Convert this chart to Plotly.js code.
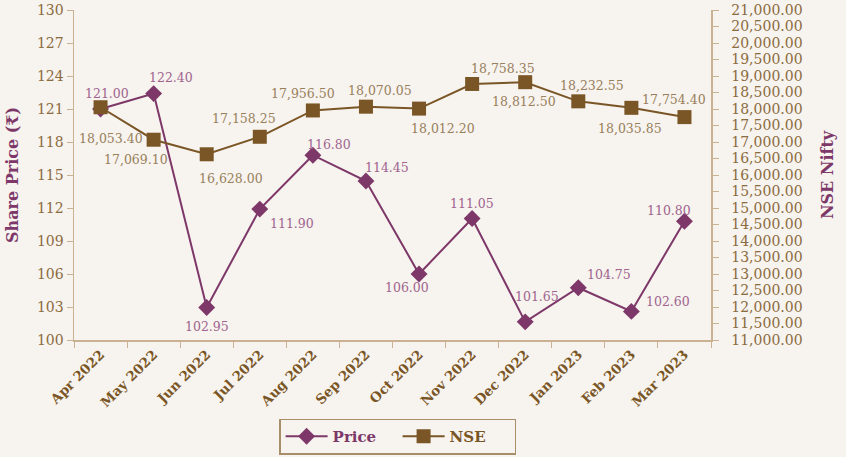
<!DOCTYPE html>
<html>
<head>
<meta charset="utf-8">
<script src="https://cdn.plot.ly/plotly-3.0.1.min.js"></script>
<style>html,body{margin:0;padding:0;background:#f7f3ee;}#chart{width:846px;height:457px;}</style>
</head>
<body>
<div id="chart"></div>
<script>
const months = ["Apr 2022","May 2022","Jun 2022","Jul 2022","Aug 2022","Sep 2022","Oct 2022","Nov 2022","Dec 2022","Jan 2023","Feb 2023","Mar 2023"];
const price = [121.00,122.40,102.95,111.90,116.80,114.45,106.00,111.05,101.65,104.75,102.60,110.80];
const nse = [18053.40,17069.10,16628.00,17158.25,17956.50,18070.05,18012.20,18758.35,18812.50,18232.55,18035.85,17754.40];

// label offsets in pixels (dx, dy with dy downwards)
const priceOff = [[6,-16],[17,-16],[0,19],[32,14],[16,-11],[21,-14],[-12,13],[0,-15],[12,-25],[31,-13],[37,-10],[-15,-11]];
const nseOff = [[10,31],[-18,20],[24,24],[-16,-18],[-10,-17],[14,-16],[24,20],[31,-15],[-1,19],[14,-16],[-1,21],[-10,-18]];

const F = "DejaVu Serif, serif";
const cPrice = "#7d3869", cNse = "#7a5626";
const cPriceLbl = "#a0648f", cNseLbl = "#98805c";
const cTick = "#8b6b40", cAxis = "#c9b191";

const fmt2 = v => v.toLocaleString("en-US",{minimumFractionDigits:2,maximumFractionDigits:2});

const annotations = [];
months.forEach((m,i)=>{
  annotations.push({x:m,y:price[i],xref:"x",yref:"y",text:fmt2(price[i]),showarrow:false,
    xshift:priceOff[i][0],yshift:-priceOff[i][1],font:{family:F,size:12.5,color:cPriceLbl}});
  annotations.push({x:m,y:nse[i],xref:"x",yref:"y2",text:fmt2(nse[i]),showarrow:false,
    xshift:nseOff[i][0],yshift:-nseOff[i][1],font:{family:F,size:12.5,color:cNseLbl}});
});

const data = [
  {x:months,y:price,name:"Price",type:"scatter",mode:"lines+markers",yaxis:"y",
   line:{color:cPrice,width:2},marker:{symbol:"diamond",size:13,color:cPrice}},
  {x:months,y:nse,name:"<span style='color:"+cNse+"'>NSE</span>",type:"scatter",mode:"lines+markers",yaxis:"y2",
   line:{color:cNse,width:2},marker:{symbol:"square",size:14,color:cNse}}
];

const layout = {
  width:846,height:457,
  paper_bgcolor:"#f7f3ee",plot_bgcolor:"#f7f3ee",
  margin:{l:74,r:135,t:10,b:117,autoexpand:false},
  showlegend:true,
  legend:{orientation:"h",x:0.508,xanchor:"center",y:-0.238,yanchor:"top",
    bordercolor:"#a98e6a",borderwidth:1.5,bgcolor:"#f7f3ee",
    font:{family:F,size:15,color:cPrice,weight:"bold"},itemwidth:42,entrywidth:60},
  xaxis:{type:"category",range:[-0.5,11.5],tickson:"boundaries",ticks:"outside",ticklen:6,automargin:false,
    tickcolor:cAxis,showline:true,linecolor:cAxis,linewidth:1.5,showgrid:false,zeroline:false,
    tickangle:-45,tickfont:{family:F,size:13.5,color:cNse,weight:"bold"}},
  yaxis:{range:[100,130],dtick:3,tick0:100,ticks:"outside",ticklen:6,tickcolor:cAxis,automargin:false,
    showline:true,linecolor:cAxis,linewidth:1.5,showgrid:false,zeroline:false,
    tickfont:{family:F,size:14,color:cTick},
    title:{text:"Share Price (₹)",font:{family:F,size:16,color:cPrice,weight:"bold"},standoff:14}},
  yaxis2:{range:[11000,21000],dtick:500,tick0:11000,overlaying:"y",side:"right",anchor:"x",automargin:false,
    ticks:"outside",ticklen:6,tickcolor:cAxis,tickformat:",.2f",
    showline:true,linecolor:cAxis,linewidth:1.5,showgrid:false,zeroline:false,
    tickfont:{family:F,size:14,color:cTick},ticklabelstandoff:10,
    title:{text:"NSE Nifty",font:{family:F,size:16,color:cPrice,weight:"bold"},standoff:20}},
  yaxis3:{range:[11000,21000],dtick:500,tick0:11000,overlaying:"y",side:"right",anchor:"x",automargin:false,
    ticks:"inside",ticklen:6,tickcolor:cAxis,showticklabels:false,showline:false,
    showgrid:false,zeroline:false},
  annotations:annotations
};

Plotly.newPlot("chart",data,layout,{displayModeBar:false,staticPlot:true});
</script>
</body>
</html>
